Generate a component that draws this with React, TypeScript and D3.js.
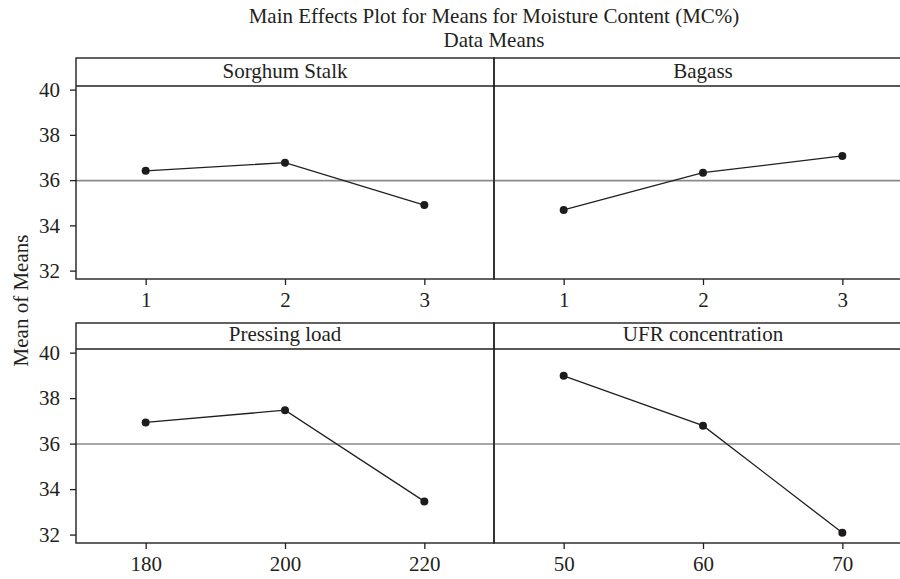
import React, { useRef, useEffect } from "react";
import * as d3 from "d3";

// factor names, level labels and level means
const factors = ["Sorghum Stalk", "Bagass", "Pressing load", "UFR concentration"];
const sorghumLevels = ["1", "2", "3"];
const bagassLevels = ["1", "2", "3"];
const pressingLevels = ["180", "200", "220"];
const ufrLevels = ["50", "60", "70"];
const sorghumMeans = [36.41, 36.77, 34.9];
const bagassMeans = [34.68, 36.33, 37.07];
const pressingMeans = [36.93, 37.47, 33.46];
const ufrMeans = [38.98, 36.79, 32.08];
const grandMean = 35.98;
const yTicks = [32, 34, 36, 38, 40];

const title = "Main Effects Plot for Means for Moisture Content (MC%)";
const subtitle = "Data Means";
const yLabel = "Mean of Means";

const FONT = "'Liberation Serif', 'Times New Roman', serif";
const INK = "#231f20";

export default function App() {
  const ref = useRef<SVGSVGElement>(null);
  const width = 900;
  const height = 579;

  useEffect(() => {
    const svg = d3.select(ref.current);
    svg.selectAll("*").remove();

    const panels = [
      { name: factors[0], levels: sorghumLevels, means: sorghumMeans, col: 0, row: 0 },
      { name: factors[1], levels: bagassLevels, means: bagassMeans, col: 1, row: 0 },
      { name: factors[2], levels: pressingLevels, means: pressingMeans, col: 0, row: 1 },
      { name: factors[3], levels: ufrLevels, means: ufrMeans, col: 1, row: 1 },
    ];

    const colX = [76, 494];
    const panelW = 418;
    const rows = [
      { top: 58, strip: 86, bottom: 279 },
      { top: 323, strip: 349, bottom: 543 },
    ];

    svg
      .append("text")
      .attr("x", 494)
      .attr("y", 23)
      .attr("text-anchor", "middle")
      .attr("font-size", 21)
      .attr("font-family", FONT)
      .attr("fill", INK)
      .text(title);
    svg
      .append("text")
      .attr("x", 494)
      .attr("y", 47)
      .attr("text-anchor", "middle")
      .attr("font-size", 21)
      .attr("font-family", FONT)
      .attr("fill", INK)
      .text(subtitle);

    svg
      .append("text")
      .attr("transform", `translate(21,${(rows[0].top + rows[1].bottom) / 2}) rotate(-90)`)
      .attr("text-anchor", "middle")
      .attr("dominant-baseline", "central")
      .attr("font-size", 21)
      .attr("font-family", FONT)
      .attr("fill", INK)
      .text(yLabel);

    panels.forEach((p) => {
      const r = rows[p.row];
      const x0 = colX[p.col];
      const x = d3
        .scalePoint<string>()
        .domain(p.levels)
        .range([x0, x0 + panelW])
        .padding(0.5);
      const y = d3.scaleLinear().domain([31.63, 40.16]).range([r.bottom, r.strip]);

      const g = svg.append("g");

      // reference line at grand mean
      g.append("line")
        .attr("x1", x0)
        .attr("x2", x0 + panelW)
        .attr("y1", y(grandMean))
        .attr("y2", y(grandMean))
        .attr("stroke", "#8a8a8a")
        .attr("stroke-width", 1.6);

      // panel frame and strip
      g.append("rect")
        .attr("x", x0)
        .attr("y", r.top)
        .attr("width", panelW)
        .attr("height", r.bottom - r.top)
        .attr("fill", "none")
        .attr("stroke", INK)
        .attr("stroke-width", 1.4);
      g.append("line")
        .attr("x1", x0)
        .attr("x2", x0 + panelW)
        .attr("y1", r.strip)
        .attr("y2", r.strip)
        .attr("stroke", INK)
        .attr("stroke-width", 1.4);
      g.append("text")
        .attr("x", x0 + panelW / 2)
        .attr("y", r.strip - 8)
        .attr("text-anchor", "middle")
        .attr("font-size", 21)
        .attr("font-family", FONT)
        .attr("fill", INK)
        .text(p.name);

      // x axis
      const xa = g
        .append("g")
        .attr("transform", `translate(0,${r.bottom})`)
        .call(d3.axisBottom(x).tickSize(6).tickPadding(7));
      xa.select(".domain").remove();
      xa.selectAll("line").attr("stroke", INK).attr("stroke-width", 1.3);
      xa.selectAll("text")
        .attr("font-size", 21)
        .attr("font-family", FONT)
        .attr("fill", INK);

      // y axis only on left column
      if (p.col === 0) {
        const ya = g
          .append("g")
          .attr("transform", `translate(${x0},0)`)
          .call(d3.axisLeft(y).tickValues(yTicks).tickSize(6).tickPadding(10));
        ya.select(".domain").remove();
        ya.selectAll("line").attr("stroke", INK).attr("stroke-width", 1.3);
        ya.selectAll("text")
          .attr("font-size", 21)
          .attr("font-family", FONT)
          .attr("fill", INK);
      }

      const line = d3
        .line<number>()
        .x((_, i) => x(p.levels[i]) as number)
        .y((d) => y(d));

      g.append("path")
        .datum(p.means)
        .attr("fill", "none")
        .attr("stroke", INK)
        .attr("stroke-width", 1.3)
        .attr("d", line);

      g.selectAll("circle")
        .data(p.means)
        .join("circle")
        .attr("cx", (_, i) => x(p.levels[i]) as number)
        .attr("cy", (d) => y(d))
        .attr("r", 4)
        .attr("fill", "#1e1b1c");
    });
  }, []);

  return (
    <>
      <style>{`body{margin:0;background:#fff}`}</style>
      <svg ref={ref} width={width} height={height} style={{ display: "block" }}></svg>
    </>
  );
}
